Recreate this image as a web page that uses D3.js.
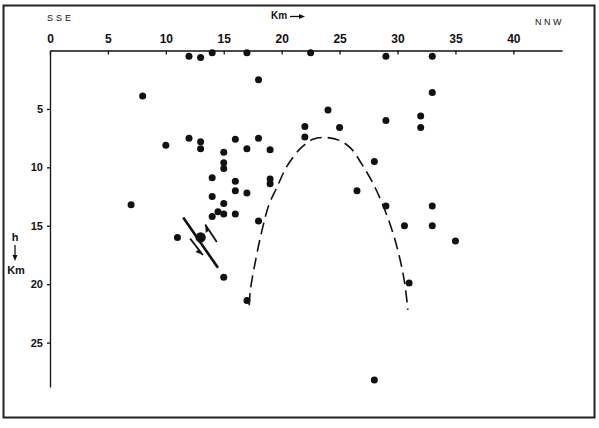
<!DOCTYPE html>
<meta charset="utf-8">
<style>
  body { margin: 0; background: #fff; }
  svg text { font-family: "Liberation Sans", Arial, sans-serif; fill: #111; }
</style>
<script src="https://d3js.org/d3.v7.min.js"></script>
<div id="graph"></div>
<script>
// hypocentres: distance along profile (km) and depth (km)
var quakeKm = [12, 13, 14, 17, 18, 8, 12, 10, 13, 13, 16, 18, 17, 19, 15, 15, 15, 14, 16, 19, 19, 16, 17, 14,
               7, 15, 14.5, 14, 15, 16, 18, 11, 15, 17,
               22.5, 29, 33, 33, 24, 29, 32, 32, 22, 25, 22, 28, 26.5, 29, 33, 30.6, 33, 35, 31, 28];
var quakeDepth = [0.5, 0.6, 0.2, 0.2, 2.5, 3.9, 7.5, 8.1, 7.8, 8.4, 7.6, 7.5, 8.4, 8.5, 8.7, 9.6, 10.1, 10.9, 11.2, 11.0, 11.4, 12.0, 12.2, 12.5,
                  13.2, 13.1, 13.8, 14.2, 14.0, 14.0, 14.6, 16.0, 19.4, 21.4,
                  0.2, 0.5, 0.5, 3.6, 5.1, 6.0, 5.6, 6.6, 6.5, 6.6, 7.4, 9.5, 12.0, 13.3, 13.3, 15.0, 15.0, 16.3, 19.9, 28.2];

// main shock
var mainKm = [13];
var mainDepth = [16];

// dashed boundary curve
var curveKm = [17.2, 17.3, 17.8, 18.3, 18.9, 19.6, 20.4, 21.6, 22.7, 23.8, 25.0, 26.0, 26.9, 27.9, 28.8, 29.6, 30.2, 30.6, 30.9];
var curveDepth = [21.8, 20.5, 17.7, 15.4, 13.2, 11.7, 10.0, 8.4, 7.6, 7.45, 7.7, 8.4, 9.7, 11.4, 13.4, 15.6, 17.8, 19.8, 22.2];

// fault plane and slip arrows
var faultKm = [11.5, 14.5];
var faultDepth = [14.3, 18.6];
var upArrowKm = [13.4, 14.4];
var upArrowDepth = [14.9, 16.4];
var downArrowKm = [12.1, 13.2];
var downArrowDepth = [16.1, 17.5];

var xTicks = [0, 5, 10, 15, 20, 25, 30, 35, 40];
var yTicks = [5, 10, 15, 20, 25];

var svg = d3.select("#graph").append("svg")
    .attr("width", 599)
    .attr("height", 428);

// outer frame
svg.append("rect")
    .attr("x", 3.5).attr("y", 5.5)
    .attr("width", 591).attr("height", 412)
    .attr("fill", "none")
    .attr("stroke", "#222")
    .attr("stroke-width", 2);

var x = d3.scaleLinear().domain([0, 44.2]).range([50, 562]);
var y = d3.scaleLinear().domain([0, 28.8]).range([50.5, 387]);

// top axis
var xAxis = svg.append("g")
    .attr("transform", "translate(0," + y(0) + ")")
    .call(d3.axisTop(x).tickValues(xTicks).tickSizeInner(-4).tickSizeOuter(0).tickPadding(8));
xAxis.selectAll("text").attr("font-size", "12px").attr("font-weight", "bold");

// left axis
var yAxis = svg.append("g")
    .attr("transform", "translate(" + x(0) + ",0)")
    .call(d3.axisLeft(y).tickValues(yTicks).tickSizeInner(3).tickSizeOuter(0).tickPadding(4));
yAxis.selectAll("text").attr("font-size", "11px").attr("font-weight", "bold");
svg.selectAll(".domain, .tick line").attr("stroke", "#111").attr("stroke-width", 1.3);

// labels
svg.append("text").attr("x", 47).attr("y", 21).attr("font-size", "9px")
    .style("letter-spacing", "3px").text("SSE");
svg.append("text").attr("x", 535).attr("y", 25).attr("font-size", "9px")
    .style("letter-spacing", "2.5px").text("NNW");
svg.append("text").attr("x", 271).attr("y", 19).attr("font-size", "10px")
    .attr("font-weight", "bold").text("Km");
svg.append("line").attr("x1", 290).attr("x2", 301).attr("y1", 16.5).attr("y2", 16.5)
    .attr("stroke", "#111").attr("stroke-width", 1.3);
svg.append("path").attr("d", "M305,16.5 L299,14 L299,19 Z").attr("fill", "#111");

svg.append("text").attr("x", 15).attr("y", 241).attr("font-size", "11px")
    .attr("font-weight", "bold").attr("text-anchor", "middle").text("h");
svg.append("line").attr("x1", 15).attr("x2", 15).attr("y1", 245).attr("y2", 256)
    .attr("stroke", "#111").attr("stroke-width", 1.3);
svg.append("path").attr("d", "M15,261 L12.5,255 L17.5,255 Z").attr("fill", "#111");
svg.append("text").attr("x", 16).attr("y", 274).attr("font-size", "11px")
    .attr("font-weight", "bold").attr("text-anchor", "middle").text("Km");

// dashed curve
var curvePts = curveKm.map(function (d, i) { return [d, curveDepth[i]]; });
svg.append("path")
    .datum(curvePts)
    .attr("d", d3.line().x(function (d) { return x(d[0]); }).y(function (d) { return y(d[1]); })
        .curve(d3.curveCatmullRom))
    .attr("fill", "none")
    .attr("stroke", "#111")
    .attr("stroke-width", 1.6)
    .attr("stroke-dasharray", "12,6");

// fault line
svg.append("line")
    .attr("x1", x(faultKm[0])).attr("y1", y(faultDepth[0]))
    .attr("x2", x(faultKm[1])).attr("y2", y(faultDepth[1]))
    .attr("stroke", "#111").attr("stroke-width", 2.6);

// slip arrows (half heads)
function slipArrow(kms, deps, headAtStart) {
    var x1 = x(kms[0]), y1 = y(deps[0]), x2 = x(kms[1]), y2 = y(deps[1]);
    svg.append("line").attr("x1", x1).attr("y1", y1).attr("x2", x2).attr("y2", y2)
        .attr("stroke", "#111").attr("stroke-width", 1.8);
    var hx = headAtStart ? x1 : x2, hy = headAtStart ? y1 : y2;
    var dx = headAtStart ? x2 - x1 : x1 - x2, dy = headAtStart ? y2 - y1 : y1 - y2;
    var len = Math.sqrt(dx * dx + dy * dy);
    var ux = dx / len, uy = dy / len;
    var bx = hx + ux * 7, by = hy + uy * 7;
    var px = -uy, py = ux;
    if (px > 0) { px = -px; py = -py; }
    svg.append("path")
        .attr("d", "M" + hx + "," + hy + " L" + (bx + px * 4) + "," + (by + py * 4) + " L" + bx + "," + by + " Z")
        .attr("fill", "#111");
}
slipArrow(upArrowKm, upArrowDepth, true);
slipArrow(downArrowKm, downArrowDepth, false);

// earthquakes
svg.selectAll("circle.quake")
    .data(quakeKm)
    .enter()
    .append("circle")
    .attr("class", "quake")
    .attr("cx", function (d) { return x(d); })
    .attr("cy", function (d, i) { return y(quakeDepth[i]); })
    .attr("r", 3.5)
    .attr("fill", "#111");

svg.selectAll("circle.main")
    .data(mainKm)
    .enter()
    .append("circle")
    .attr("class", "main")
    .attr("cx", function (d) { return x(d); })
    .attr("cy", function (d, i) { return y(mainDepth[i]); })
    .attr("r", 5.2)
    .attr("fill", "#111");
</script>
